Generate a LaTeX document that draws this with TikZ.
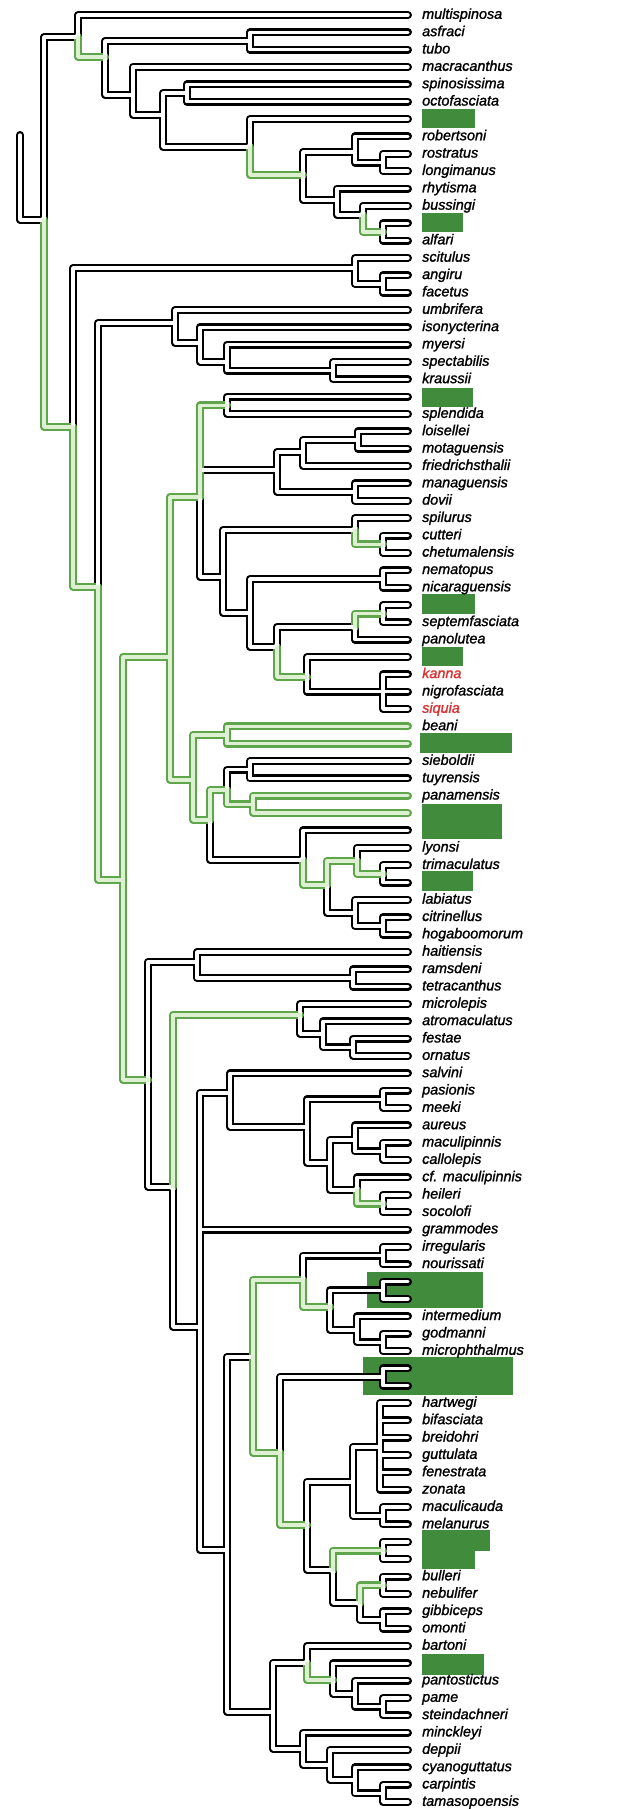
\documentclass[tikz,border=0pt]{standalone}
\usepackage{fontspec}
\setmainfont[ItalicFeatures={FakeBold=1.4}]{Liberation Sans}
\definecolor{boxgreen}{RGB}{64,140,60}
\definecolor{branchgreen}{RGB}{95,165,75}
\definecolor{palegreen}{RGB}{222,240,210}
\definecolor{redtaxon}{RGB}{215,50,50}
\tikzset{
  tubeline/.style={line width=8pt, line cap=round, line join=round},
  tubefill/.style={line width=3.4pt, line cap=round, line join=round, white},
  taxon/.style={anchor=base west, inner sep=0pt, font=\fontsize{14.4}{16}\selectfont\itshape},
  hidden/.style={fill=boxgreen, draw=none}
}
% branches drawn as parent |- child
\newcommand\blackbranches{rs/R, R/N1, N1/tip1, N2/C1, N2/N3, C1/tip2, C1/tip3,
  N3/tip4, N3/N4, N4/C2, N4/N5, C2/tip5, C2/tip6, N5/tip7, N6/N7, N6/N9,
  N7/tip8, N7/C3, C3/tip9, C3/tip10, N9/tip11, N9/N10, N10/tip12, C4/tip13, C4/tip14,
  Nin/S, S/tip15, S/C5, C5/tip16, C5/tip17,
  Nb/U, U/tip18, U/U2, U2/tip19, U2/U3, U3/tip20, U3/C6, C6/tip21, C6/tip22,
  C7/tip23, C7/tip24, Nd1/LO, LO/LO1, LO/C8, LO1/C9, LO1/tip27, C9/tip25, C9/tip26,
  C8/tip28, C8/tip29, Nd1/Ns, Ns/SP, Ns/Nt, SP/tip30, C10/tip31, C10/tip32,
  Nt/C11, Nt/Nu, C11/tip33, C11/tip34, Nu/SF, SF/tip37, C12/tip35, C12/tip36,
  KN/tip38, KN/K3, K3/tip39, K3/tip40, K3/tip41,
  SB3/LY, SB2/SB, SB/tip44, SB/tip45, LY/tip48, LYa/tip49, C14/tip50, C14/tip51,
  LY2/LB, LB/tip52, LB/C15, C15/tip53, C15/tip54,
  Ne/H, H/tip55, H/C16, C16/tip56, C16/tip57, Ne/Nf, Nf/Ng,
  M/tip58, M/M2, M2/tip59, M2/M3, M3/tip60, M3/tip61,
  Ng/SV, Ng/tip71, Ng/Nh, SV/tip62, SV/SV2, SV2/C17, SV2/SV3, C17/tip63, C17/tip64,
  SV3/SV4, SV3/SV5, SV4/tip65, SV4/C18, C18/tip66, C18/tip67, SV5/tip68,
  C19/tip69, C19/tip70,
  Nh/I1, Nh/Ni, I2/C20, C20/tip72, C20/tip73, I3/C21, I3/I4, C21/tip74, C21/tip75,
  I4/tip76, I4/C22, C22/tip77, C22/tip78, I5/C23, C23/tip79, C23/tip80,
  PZ/PX, PZ/PY, PX/PT, PX/C24, PT/tip81, PT/tip82, PT/tip83, PT/tip84, PT/tip85, PT/tip86,
  C24/tip87, C24/tip88, PY/PW, C25/tip89, C25/tip90, PW/C27,
  C26/tip91, C26/tip92, C27/tip93, C27/tip94,
  Ni/BT, Ni/MK, BT/tip95, P1/tip96, P1/P2, P2/tip97, P2/P3, P3/tip98, P3/tip99,
  MK/tip100, MK/Q1, Q1/tip101, Q1/Q2, Q2/tip102, Q2/Q3, Q3/tip103, Q3/tip104}
\newcommand\greenbranches{N1/N2, N5/N6, N10/C4, R/Nin, Nin/Nb, Nb/Nc, Nc/Nd, Nc/Ne,
  Nd/Nd1, Nd/Nd2, Nd1/C7, SP/C10, SF/C12, Nu/KN, Nd2/C13, C13/tip42, C13/tip43,
  Nd2/SB3, SB3/SB2, SB2/PN, PN/tip46, PN/tip47, LY/LY2, LY2/LYa, LYa/C14,
  Nf/M, SV5/C19, I1/I2, I2/I3, I1/I5, I5/PZ, PY/C25, PW/C26, BT/P1}

\begin{document}
\begin{tikzpicture}[x=1pt,y=-1pt]
\useasboundingbox (0,0) rectangle (636,1809);
% green boxes behind the names
\fill[hidden] (422,109) rectangle (475,128);
\fill[hidden] (422,213) rectangle (463,232);
\fill[hidden] (422,388) rectangle (473,407);
\fill[hidden] (422,594) rectangle (475,614);
\fill[hidden] (422,647) rectangle (463,666);
\fill[hidden] (420,733) rectangle (512,753);
\fill[hidden] (422,804) rectangle (502,839);
\fill[hidden] (422,871) rectangle (473,891);
\fill[hidden] (367,1272) rectangle (483,1308);
\fill[hidden] (363,1357) rectangle (513,1395);
\fill[hidden] (422,1530) rectangle (490,1551);
\fill[hidden] (422,1549) rectangle (475,1569);
\fill[hidden] (422,1654) rectangle (484,1675);
% taxa
\foreach \txt/\col [count=\i] in {multispinosa/black, asfraci/black, tubo/black,
  macracanthus/black, spinosissima/black, octofasciata/black, {}/black, robertsoni/black,
  rostratus/black, longimanus/black, rhytisma/black, bussingi/black, {}/black, alfari/black,
  scitulus/black, angiru/black, facetus/black, umbrifera/black, isonycterina/black,
  myersi/black, spectabilis/black, kraussii/black, {}/black, splendida/black,
  loisellei/black, motaguensis/black, friedrichsthalii/black, managuensis/black,
  dovii/black, spilurus/black, cutteri/black, chetumalensis/black, nematopus/black,
  nicaraguensis/black, {}/black, septemfasciata/black, panolutea/black, {}/black,
  kanna/redtaxon, nigrofasciata/black, siquia/redtaxon, beani/black, {}/black,
  sieboldii/black, tuyrensis/black, panamensis/black, {}/black, {}/black, lyonsi/black,
  trimaculatus/black, {}/black, labiatus/black, citrinellus/black, hogaboomorum/black,
  haitiensis/black, ramsdeni/black, tetracanthus/black, microlepis/black,
  atromaculatus/black, festae/black, ornatus/black, salvini/black, pasionis/black,
  meeki/black, aureus/black, maculipinnis/black, callolepis/black,
  cf. maculipinnis/black, heileri/black, socolofi/black, grammodes/black,
  irregularis/black, nourissati/black, {}/black, {}/black, intermedium/black,
  godmanni/black, microphthalmus/black, {}/black, {}/black, hartwegi/black,
  bifasciata/black, breidohri/black, guttulata/black, fenestrata/black, zonata/black,
  maculicauda/black, melanurus/black, {}/black, {}/black, bulleri/black,
  nebulifer/black, gibbiceps/black, omonti/black, bartoni/black, {}/black,
  pantostictus/black, pame/black, steindachneri/black, minckleyi/black, deppii/black,
  cyanoguttatus/black, carpintis/black, tamasopoensis/black} {
    \coordinate (tip\i) at (408,{15+(\i-1)*17.35});
    \node[taxon, text=\col] (sp\i) at (422,{18.8+(\i-1)*17.35}) {\txt};
}
% outgroup
\coordinate (rs) at (20,135);
\coordinate (R) at (44,220);
\coordinate (N1) at (78,37);
\coordinate (N2) at (105,57);
\coordinate (C1) at (250,41);
\coordinate (N3) at (133,95);
\coordinate (N4) at (163,115);
\coordinate (C2) at (187,93);
\coordinate (N5) at (250,147);
\coordinate (N6) at (303,175);
\coordinate (N7) at (355,152);
\coordinate (C3) at (383,162.5);
\coordinate (N9) at (337,200);
\coordinate (N10) at (363,215);
\coordinate (C4) at (383,231.9);
% ingroup
\coordinate (Nin) at (73,427);
\coordinate (S) at (355,268);
\coordinate (C5) at (383,283.9);
\coordinate (Nb) at (98,587);
\coordinate (U) at (175,323);
\coordinate (U2) at (200,343);
\coordinate (U3) at (227,362);
\coordinate (C6) at (333,370.7);
\coordinate (Nc) at (123,880);
\coordinate (Nd) at (170,657);
\coordinate (Nd1) at (200,497);
\coordinate (C7) at (227,405.4);
\coordinate (LO) at (277,470);
\coordinate (LO1) at (303,452);
\coordinate (C9) at (358,440.1);
\coordinate (C8) at (355,492.1);
\coordinate (Ns) at (223,577);
\coordinate (SP) at (355,530);
\coordinate (C10) at (383,544.2);
\coordinate (Nt) at (250,613);
\coordinate (C11) at (383,578.9);
\coordinate (Nu) at (277,647);
\coordinate (SF) at (355,627);
\coordinate (C12) at (383,613.6);
\coordinate (KN) at (307,677);
\coordinate (K3) at (383,691.65);
\coordinate (Nd2) at (193,780);
\coordinate (C13) at (227,735);
\coordinate (SB3) at (210,820);
\coordinate (SB2) at (227,790);
\coordinate (SB) at (250,769.7);
\coordinate (PN) at (253,804.4);
\coordinate (LY) at (303,860);
\coordinate (LY2) at (327,885);
\coordinate (LYa) at (357,861);
\coordinate (C14) at (383,873.8);
\coordinate (LB) at (355,913);
\coordinate (C15) at (383,925.9);
\coordinate (Ne) at (148,1080);
\coordinate (H) at (197,962);
\coordinate (C16) at (353,977.9);
\coordinate (Nf) at (173,1187);
\coordinate (M) at (300,1015);
\coordinate (M2) at (323,1034);
\coordinate (M3) at (353,1047.3);
\coordinate (Ng) at (200,1327);
\coordinate (SV) at (230,1093);
\coordinate (SV2) at (307,1127);
\coordinate (C17) at (383,1099.4);
\coordinate (SV3) at (330,1163);
\coordinate (SV4) at (355,1140);
\coordinate (C18) at (383,1151.4);
\coordinate (SV5) at (357,1190);
\coordinate (C19) at (383,1203.5);
\coordinate (Nh) at (227,1550);
\coordinate (I1) at (253,1357);
\coordinate (I2) at (303,1280);
\coordinate (C20) at (383,1255.5);
\coordinate (I3) at (330,1307);
\coordinate (C21) at (383,1290.2);
\coordinate (I4) at (357,1330);
\coordinate (C22) at (383,1342.3);
\coordinate (I5) at (280,1453);
\coordinate (C23) at (383,1377);
\coordinate (PZ) at (307,1525);
\coordinate (PX) at (353,1482);
\coordinate (PT) at (380,1447);
\coordinate (C24) at (383,1515.8);
\coordinate (PY) at (333,1570);
\coordinate (C25) at (383,1550.5);
\coordinate (PW) at (360,1603);
\coordinate (C26) at (383,1585.2);
\coordinate (C27) at (383,1619.9);
\coordinate (Ni) at (273,1712);
\coordinate (BT) at (307,1663);
\coordinate (P1) at (333,1680);
\coordinate (P2) at (355,1694);
\coordinate (P3) at (383,1706.6);
\coordinate (MK) at (303,1749);
\coordinate (Q1) at (330,1765);
\coordinate (Q2) at (355,1780);
\coordinate (Q3) at (383,1793.4);
% outlines first, then the insides
\foreach \a/\b in \blackbranches {\draw[tubeline] (\a) |- (\b);}
\foreach \a/\b in \greenbranches {\draw[tubeline, branchgreen] (\a) |- (\b);}
\foreach \a/\b in \blackbranches {\draw[tubefill] (\a) |- (\b);}
\foreach \a/\b in \greenbranches {\draw[tubefill, palegreen] (\a) |- (\b);}
\end{tikzpicture}
\end{document}
